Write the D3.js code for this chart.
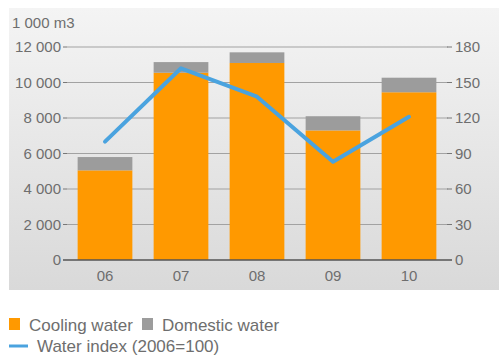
<!DOCTYPE html>
<meta charset="utf-8">
<head>
    <title></title>
    <script src="https://cdnjs.cloudflare.com/ajax/libs/d3/7.8.5/d3.min.js"></script>
</head>
<style>
    body{ margin:0; background:#fff; }
    text{
      font-family: "Liberation Sans Narrow", "Arial Narrow", "Liberation Sans", sans-serif;
      fill:#6e6e6e;
    }
</style>
<svg width="499" height="360"></svg>
<script>
    var years = ['06','07','08','09','10'],
        cooling = [5050, 10550, 11100, 7300, 9450],
        domestic = [750, 600, 600, 800, 820],
        waterIndex = [100, 162, 138, 83, 121],
        leftTicks = [0, 2000, 4000, 6000, 8000, 10000, 12000],
        rightTicks = [0, 30, 60, 90, 120, 150, 180];

    var svg = d3.select('svg');

    // panel background
    var grad = svg.append('defs').append('linearGradient')
        .attr('id','bg').attr('x1',0).attr('y1',0).attr('x2',0).attr('y2',1);
    grad.append('stop').attr('offset','0%').attr('stop-color','#f4f4f4');
    grad.append('stop').attr('offset','100%').attr('stop-color','#d9d9d9');
    svg.append('rect').attr('x',9).attr('y',8).attr('width',490).attr('height',282)
        .style('fill','url(#bg)');

    var x = d3.scaleBand().domain(years).range([67, 447]).paddingInner(0.28).paddingOuter(0.14),
        y = d3.scaleLinear().domain([0, 12000]).range([260, 47]),
        y2 = d3.scaleLinear().domain([0, 180]).range([260, 47]);

    var fmt = function(d){ return d3.format(',')(d).replace(',', ' '); };

    // grid
    svg.append('g').selectAll('line').data(leftTicks.slice(1)).enter().append('line')
        .attr('x1',67).attr('x2',448)
        .attr('y1',function(d){ return y(d); }).attr('y2',function(d){ return y(d); })
        .style('stroke','#a2a2a2').style('stroke-width',1.2);

    // bars
    var bars = svg.append('g');
    bars.selectAll('rect.c').data(years).enter().append('rect')
        .attr('x',function(d){ return x(d); })
        .attr('width',x.bandwidth())
        .attr('y',function(d,i){ return y(cooling[i]); })
        .attr('height',function(d,i){ return y(0) - y(cooling[i]); })
        .style('fill','#ff9900');
    bars.selectAll('rect.d').data(years).enter().append('rect')
        .attr('x',function(d){ return x(d); })
        .attr('width',x.bandwidth())
        .attr('y',function(d,i){ return y(cooling[i] + domestic[i]); })
        .attr('height',function(d,i){ return y(cooling[i]) - y(cooling[i] + domestic[i]); })
        .style('fill','#9c9c9c');

    // baseline
    svg.append('line').attr('x1',63).attr('x2',452).attr('y1',y(0)).attr('y2',y(0))
        .style('stroke','#555').style('stroke-width',1.5);

    // left axis
    svg.append('g').selectAll('text').data(leftTicks).enter().append('text')
        .attr('x',61).attr('y',function(d){ return y(d) + 5; })
        .attr('text-anchor','end').style('font-size','15px')
        .text(fmt);
    svg.append('g').selectAll('line').data(leftTicks).enter().append('line')
        .attr('x1',63).attr('x2',67)
        .attr('y1',function(d){ return y(d); }).attr('y2',function(d){ return y(d); })
        .style('stroke','#777');

    // right axis
    svg.append('g').selectAll('text').data(rightTicks).enter().append('text')
        .attr('x',455).attr('y',function(d){ return y2(d) + 5; })
        .style('font-size','15px')
        .text(function(d){ return d; });
    svg.append('g').selectAll('line').data(rightTicks).enter().append('line')
        .attr('x1',447).attr('x2',452)
        .attr('y1',function(d){ return y2(d); }).attr('y2',function(d){ return y2(d); })
        .style('stroke','#777');

    svg.append('text').attr('x',12).attr('y',28).style('font-size','15px').text('1 000 m3');

    // x labels
    svg.append('g').selectAll('text').data(years).enter().append('text')
        .attr('x',function(d){ return x(d) + x.bandwidth()/2; })
        .attr('y',281).attr('text-anchor','middle').style('font-size','15px')
        .text(function(d){ return d; });

    // index line
    var line = d3.line()
        .x(function(d,i){ return x(years[i]) + x.bandwidth()/2; })
        .y(function(d){ return y2(d); });
    svg.append('path').datum(waterIndex).attr('d',line)
        .style('fill','none').style('stroke','#4aa3df').style('stroke-width',4)
        .style('stroke-linejoin','round').style('stroke-linecap','round');

    // legend
    var lg = svg.append('g');
    lg.append('rect').attr('x',9).attr('y',318).attr('width',11).attr('height',12).style('fill','#ff9900');
    lg.append('text').attr('x',29).attr('y',331).style('font-size','17px').text('Cooling water');
    lg.append('rect').attr('x',142).attr('y',318).attr('width',11).attr('height',12).style('fill','#9c9c9c');
    lg.append('text').attr('x',162).attr('y',331).style('font-size','17px').text('Domestic water');
    lg.append('line').attr('x1',9).attr('x2',28).attr('y1',346).attr('y2',346)
        .style('stroke','#4aa3df').style('stroke-width',3);
    lg.append('text').attr('x',37).attr('y',352).style('font-size','17px').text('Water index (2006=100)');
</script>
